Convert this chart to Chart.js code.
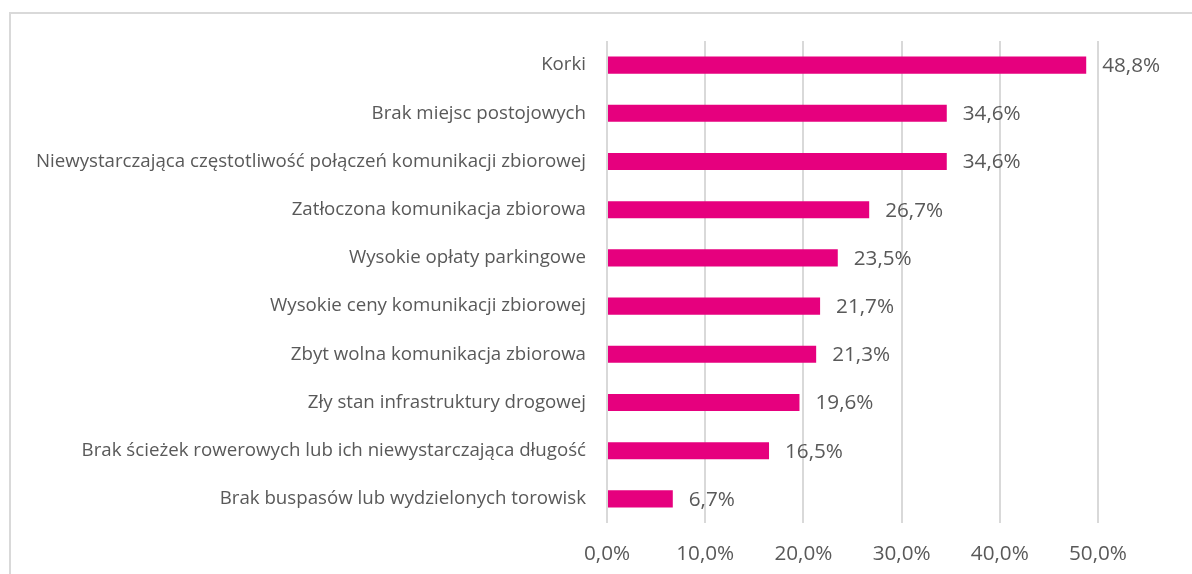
<!DOCTYPE html>
<html>
<head>
<meta charset="utf-8">
<script src="https://cdn.jsdelivr.net/npm/chart.js@4"></script>
<style>
  html, body { margin: 0; padding: 0; background: #ffffff; }
  #wrap { position: relative; width: 1192px; height: 574px; overflow: hidden; }
  #frame { position: absolute; left: 9px; top: 12px; right: -5px; bottom: -5px; border-left: 2px solid #d9d9d9; border-top: 2px solid #d9d9d9; }
  canvas { position: absolute; left: 0; top: 0; }
</style>
</head>
<body>
<div id="wrap">
  <div id="frame"></div>
  <canvas id="c" width="1192" height="574"></canvas>
</div>
<script>
const categories = [
  "Korki",
  "Brak miejsc postojowych",
  "Niewystarczająca częstotliwość połączeń komunikacji zbiorowej",
  "Zatłoczona komunikacja zbiorowa",
  "Wysokie opłaty parkingowe",
  "Wysokie ceny komunikacji zbiorowej",
  "Zbyt wolna komunikacja zbiorowa",
  "Zły stan infrastruktury drogowej",
  "Brak ścieżek rowerowych lub ich niewystarczająca długość",
  "Brak buspasów lub wydzielonych torowisk"
];
const values = [48.8, 34.6, 34.6, 26.7, 23.5, 21.7, 21.3, 19.6, 16.5, 6.7];
const xTicks = [0, 10, 20, 30, 40, 50];

const fmt = v => v.toFixed(1).replace('.', ',') + '%';
const FONT = "'Open Sans', 'DejaVu Sans', sans-serif";
const TEXT = '#595959';

const valueLabels = {
  id: 'valueLabels',
  afterDatasetsDraw(chart) {
    const ctx = chart.ctx;
    const meta = chart.getDatasetMeta(0);
    ctx.save();
    ctx.font = '20.7px ' + FONT;
    ctx.fillStyle = TEXT;
    ctx.textAlign = 'left';
    ctx.textBaseline = 'middle';
    meta.data.forEach((bar, i) => {
      ctx.fillText(fmt(values[i]), bar.x + 16, bar.y + 1);
    });
    ctx.restore();
  }
};

new Chart(document.getElementById('c'), {
  type: 'bar',
  data: {
    labels: categories,
    datasets: [{
      data: values,
      backgroundColor: '#E6007E',
      borderWidth: 0,
      categoryPercentage: 1.0,
      barPercentage: 0.355
    }]
  },
  options: {
    indexAxis: 'y',
    responsive: false,
    animation: false,
    devicePixelRatio: 1,
    layout: { padding: { left: 0, top: 41, right: 94, bottom: 0 } },
    plugins: { legend: { display: false }, tooltip: { enabled: false } },
    scales: {
      x: {
        min: 0, max: 50,
        afterBuildTicks(scale) { scale.ticks = xTicks.map(v => ({ value: v })); },
        afterFit(scale) { scale.height = 51; },
        grid: { color: '#d9d9d9', lineWidth: 2, drawTicks: false },
        border: { display: false },
        ticks: {
          padding: 19,
          color: TEXT,
          font: { family: FONT, size: 20.7 },
          callback: v => fmt(v)
        }
      },
      y: {
        afterFit(scale) { scale.width = 607; },
        grid: { display: false, drawTicks: false },
        border: { display: false },
        ticks: {
          padding: 21,
          color: TEXT,
          font: { family: FONT, size: 18.7 }
        }
      }
    }
  },
  plugins: [valueLabels]
});
</script>
</body>
</html>
